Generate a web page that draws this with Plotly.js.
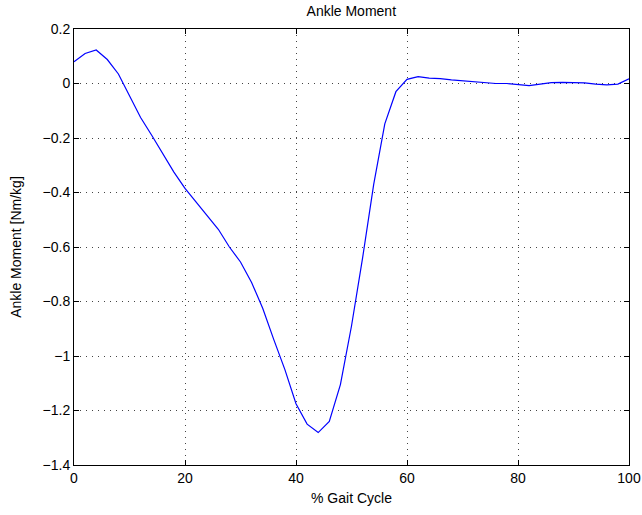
<!DOCTYPE html>
<html>
<head>
<meta charset="utf-8">
<script src="https://cdn.plot.ly/plotly-3.0.1.min.js"></script>
<style>html,body{margin:0;padding:0;background:#fff;}#chart{width:642px;height:515px;}</style>
</head>
<body>
<div id="chart"></div>
<script>
const gaitCycle = [0,2,4,6,8,10,12,14,16,18,20,22,24,26,28,30,32,34,36,38,40,42,44,46,48,50,52,54,56,58,60,62,64,66,68,70,72,74,76,78,80,82,84,86,88,90,92,94,96,98,100];
const ankleMoment = [0.08,0.11,0.123,0.088,0.035,-0.045,-0.125,-0.19,-0.26,-0.325,-0.385,-0.435,-0.485,-0.535,-0.6,-0.655,-0.73,-0.825,-0.94,-1.05,-1.175,-1.25,-1.281,-1.24,-1.105,-0.89,-0.64,-0.37,-0.148,-0.03,0.015,0.025,0.02,0.018,0.013,0.01,0.007,0.003,0.0,0.0,-0.003,-0.008,-0.002,0.003,0.004,0.004,0.002,-0.002,-0.005,-0.002,0.017];
const xTicks = [0,20,40,60,80,100];
const yTicks = [0.2,0,-0.2,-0.4,-0.6,-0.8,-1,-1.2,-1.4];
const yTickText = ['0.2','0','\u22120.2','\u22120.4','\u22120.6','\u22120.8','\u22121','\u22121.2','\u22121.4'];

const axisCommon = {
  showline: true, linecolor: '#000', linewidth: 1, mirror: 'ticks',
  ticks: 'inside', ticklen: 5, tickcolor: '#000', tickwidth: 1,
  showgrid: true, gridcolor: '#444', gridwidth: 1, griddash: '1px,5px',
  zeroline: false,
  tickfont: {family: 'Liberation Sans, Arial, sans-serif', size: 14, color: '#000'}
};

const layout = {
  width: 642, height: 515,
  margin: {l: 74, r: 13, t: 28.5, b: 50, pad: 0},
  paper_bgcolor: '#fff', plot_bgcolor: '#fff',
  showlegend: false,
  font: {family: 'Liberation Sans, Arial, sans-serif', size: 14, color: '#000'},
  title: {text: 'Ankle Moment', x: 0.5472, xanchor: 'center', y: 0.978, yanchor: 'middle',
          font: {family: 'Liberation Sans, Arial, sans-serif', size: 14, color: '#000'}},
  xaxis: Object.assign({}, axisCommon, {
    range: [0, 100], tickvals: xTicks, ticktext: xTicks.map(String),
    title: {text: '% Gait Cycle', standoff: 8, font: {family: 'Liberation Sans, Arial, sans-serif', size: 14, color: '#000'}}
  }),
  yaxis: Object.assign({}, axisCommon, {
    range: [-1.4, 0.2], tickvals: yTicks, ticktext: yTickText,
    title: {text: 'Ankle Moment [Nm/kg]', standoff: 17, font: {family: 'Liberation Sans, Arial, sans-serif', size: 14, color: '#000'}}
  })
};

Plotly.newPlot('chart', [{
  x: gaitCycle, y: ankleMoment, type: 'scatter', mode: 'lines',
  line: {color: '#0000ff', width: 1.2}
}], layout, {displayModeBar: false, staticPlot: true});
</script>
</body>
</html>
